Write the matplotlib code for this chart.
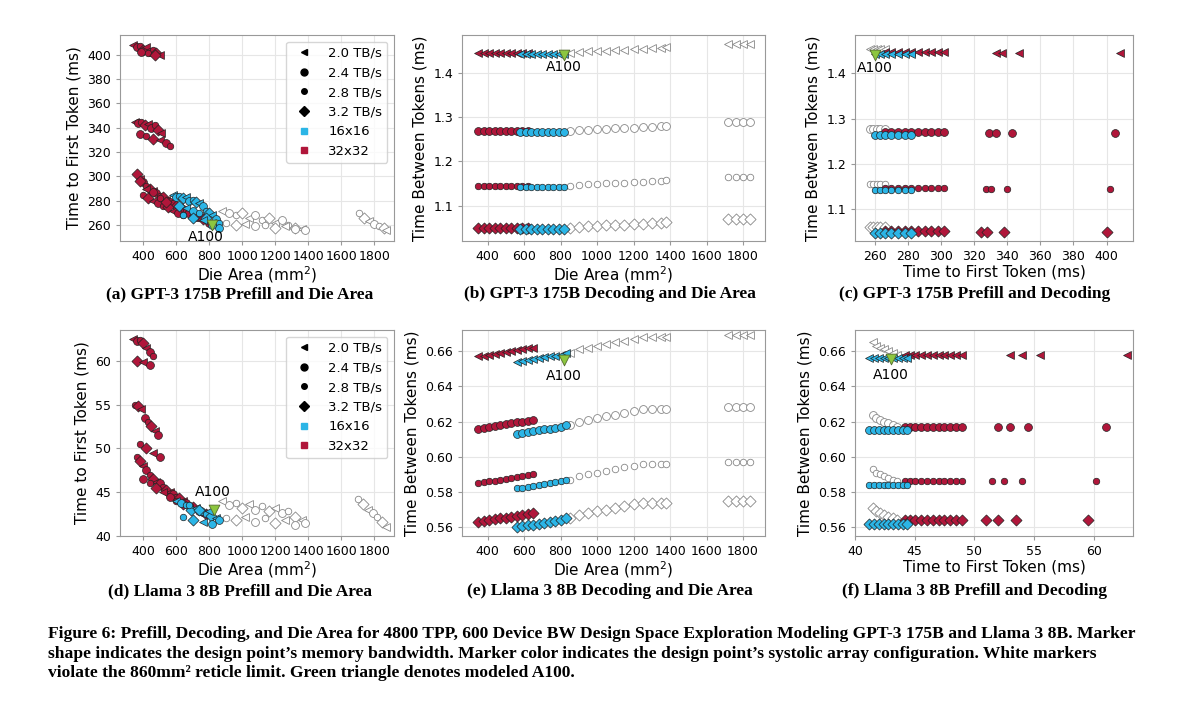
import matplotlib
matplotlib.use('Agg')
import matplotlib.pyplot as plt
from matplotlib.lines import Line2D

RED = '#b0163a'
BLUE = '#2bb5e6'
MK = ['<', 'o', '.', 'D']   # 2.0, 2.4, 2.8, 3.2 TB/s
BW_LABELS = ['2.0 TB/s', '2.4 TB/s', '2.8 TB/s', '3.2 TB/s']

# ---- (a) GPT-3 prefill vs die area
A_RED_X = [340, 360, 380, 400, 420, 440, 460, 480, 500, 390, 430, 470,
           350, 370, 390, 410, 430, 450, 470, 490, 510, 380, 420, 460, 500, 540, 560,
           360, 380, 400, 420, 440, 460, 480, 500, 520, 540, 560, 580, 600, 620, 640, 660,
           680, 700, 720, 740, 760, 780, 800, 400, 430, 460, 490, 520, 550, 580, 610, 640,
           380, 420, 460, 500, 540]
A_RED_Y = [408, 406, 407, 404, 406, 402, 404, 401, 400, 402, 401, 400,
           345, 344, 345, 342, 343, 340, 342, 338, 336, 335, 333, 331, 330, 327, 325,
           302, 298, 295, 292, 290, 288, 286, 284, 283, 281, 279, 278, 276, 275, 273, 272,
           270, 268, 267, 266, 265, 263, 262, 285, 282, 280, 278, 276, 275, 272, 270, 268,
           296, 290, 287, 282, 279]
A_BLUE_X = [580, 600, 620, 640, 660, 680, 700, 720, 740, 760, 780, 800, 820, 840, 860,
            620, 660, 700, 740, 780, 820, 860, 640, 700, 760, 820]
A_BLUE_Y = [285, 283, 284, 282, 283, 280, 281, 279, 278, 276, 272, 270, 268, 265, 262,
            276, 274, 272, 270, 266, 262, 258, 268, 266, 264, 260]
A_WHITE_X = [880, 920, 960, 1000, 1040, 1080, 1120, 1160, 1200, 1240, 1280, 1320, 1360, 1380,
             900, 960, 1020, 1080, 1140, 1200, 1260, 1320,
             1710, 1740, 1770, 1800, 1830, 1860, 1870]
A_WHITE_Y = [272, 270, 268, 270, 266, 268, 264, 266, 262, 264, 260, 258, 257, 256,
             262, 260, 261, 259, 260, 258, 259, 257,
             270, 266, 263, 261, 259, 258, 256]
A_A100 = (820, 260)

# ---- (b) GPT-3 decoding vs die area
B_LEVELS = [1.445, 1.268, 1.145, 1.05]
B_RED_X = [350, 380, 410, 440, 470, 500, 530, 560, 590, 620]
B_BLUE_X = [580, 610, 640, 670, 700, 730, 760, 790, 820]
B_WHITE_X = [850, 900, 950, 1000, 1050, 1100, 1150, 1200, 1250, 1300, 1350, 1380, 1720, 1760, 1800, 1840]
B_WHITE_DY = [0.0, 0.002, 0.003, 0.004, 0.005, 0.006, 0.007, 0.008, 0.009, 0.01, 0.011, 0.012,
              0.02, 0.02, 0.02, 0.02]
B_A100 = (820, 1.44)

# ---- (c) GPT-3 prefill vs decoding
C_RED_X = [266, 270, 274, 278, 282, 286, 290, 294, 298, 302]
C_OUT_X = [[333, 337, 347, 408], [329, 333, 343, 405], [327, 330, 340, 402], [324, 328, 338, 400]]
C_BLUE_X = [260, 263, 266, 270, 274, 278, 282]
C_WHITE_X = [257, 259, 261, 263, 266]
C_A100 = (260, 1.44)

# ---- (d) Llama 3 8B prefill vs die area
D_RED_X = [340, 360, 380, 400, 420, 440, 460, 360, 400, 440,
           350, 370, 390, 410, 430, 450, 470, 490, 380, 420, 460, 500,
           360, 380, 400, 420, 440, 460, 480, 500, 520, 540, 560, 580, 600, 620, 640, 660,
           680, 700, 720, 740, 760, 780, 800, 400, 440, 480, 520, 560, 600, 640, 680]
D_RED_Y = [62.5, 62.3, 62.4, 62.0, 61.5, 61.0, 60.5, 60.0, 59.8, 59.5,
           55.0, 54.8, 54.5, 53.5, 53.0, 52.5, 52.0, 51.5, 50.5, 50.0, 49.5, 49.0,
           49.0, 48.5, 48.0, 47.5, 47.0, 46.5, 46.2, 46.0, 45.6, 45.3, 45.0, 44.8, 44.5, 44.3,
           44.0, 43.8, 43.5, 43.3, 43.0, 42.8, 42.6, 42.5, 42.3, 46.5, 46.0, 45.5, 45.0,
           44.5, 44.0, 43.6, 43.2]
D_BLUE_X = [600, 630, 660, 690, 720, 750, 780, 810, 840, 860, 640, 700, 760, 820, 680, 740, 800]
D_BLUE_Y = [44.0, 43.8, 43.5, 43.0, 43.2, 42.8, 42.5, 42.3, 42.0, 41.8,
            42.2, 41.8, 41.6, 41.4, 43.5, 43.0, 42.8]
D_WHITE_X = [880, 920, 960, 1000, 1040, 1080, 1120, 1160, 1200, 1240, 1280, 1320, 1360, 1380,
             900, 960, 1020, 1080, 1140, 1200, 1260, 1320,
             1700, 1730, 1760, 1790, 1820, 1850, 1870]
D_WHITE_Y = [44.0, 43.5, 43.8, 43.2, 43.6, 43.0, 43.4, 42.8, 43.2, 42.6, 42.8, 42.2, 41.8, 41.5,
             42.0, 41.8, 42.2, 41.6, 42.0, 41.5, 41.8, 41.3,
             44.2, 43.6, 43.0, 42.6, 42.2, 41.6, 41.0]
D_A100 = (830, 43.0)

# ---- (e) Llama 3 8B decoding vs die area
E_LEVELS = [0.657, 0.616, 0.585, 0.563]
E_RED_X = [350, 380, 410, 440, 470, 500, 530, 560, 590, 620, 650]
E_RED_DY = [0.0, 0.0005, 0.001, 0.0015, 0.002, 0.0025, 0.003, 0.0035, 0.004, 0.0045, 0.005]
E_BLUE_X = [560, 590, 620, 650, 680, 710, 740, 770, 800, 830]
E_BLUE_DY = [-0.003, -0.0025, -0.002, -0.0015, -0.001, -0.0005, 0.0, 0.0005, 0.001, 0.002]
E_WHITE_X = [850, 900, 950, 1000, 1050, 1100, 1150, 1200, 1250, 1300, 1350, 1380, 1720, 1760, 1800, 1840]
E_WHITE_DY = [0.002, 0.004, 0.005, 0.006, 0.007, 0.008, 0.009, 0.01, 0.011, 0.011, 0.011, 0.011,
              0.012, 0.012, 0.012, 0.012]
E_A100 = (820, 0.655)

# ---- (f) Llama 3 8B prefill vs decoding
F_RED_X = [44.2, 44.6, 45.0, 45.5, 46.0, 46.5, 47.0, 47.5, 48.0, 48.5, 49.0]
F_OUT_X = [[53.0, 54.0, 55.5, 62.8], [52.0, 53.0, 54.5, 61.0], [51.5, 52.5, 54.0, 60.2],
           [51.0, 52.0, 53.5, 59.5]]
F_BLUE_X = [41.2, 41.6, 42.0, 42.4, 42.8, 43.2, 43.6, 44.0, 44.4]
F_WHITE_X = [41.5, 41.8, 42.1, 42.4, 42.8, 43.2, 43.5]
F_WHITE_DY = [0.008, 0.006, 0.005, 0.004, 0.003, 0.002, 0.001]
F_A100 = (43.0, 0.6555)


def pts(ax, xs, ys, kind, bw=None):
    for i, (x, y) in enumerate(zip(xs, ys)):
        m = MK[bw] if bw is not None else MK[i % 4]
        s = 22 if m == '.' else 32
        if m == '.':
            m = 'o'
        if kind == 'white':
            ax.scatter(x, y, marker=m, s=s, facecolor='white', edgecolor='#888888', linewidth=0.6, zorder=2)
        else:
            ax.scatter(x, y, marker=m, s=s, facecolor=RED if kind == 'red' else BLUE,
                       edgecolor='#222222', linewidth=0.5, zorder=3)


def a100(ax, p, dx, dy):
    ax.scatter(*p, marker='v', s=60, color='#8cc63f', edgecolor='#556b2f', linewidth=0.6, zorder=5)
    ax.text(p[0] + dx, p[1] + dy, 'A100', fontsize=10, ha='center', va='top', zorder=6)


def style(ax, xl, yl):
    ax.grid(True, color='#e6e6e6', linewidth=0.8)
    ax.set_axisbelow(True)
    for s in ax.spines.values():
        s.set_color('#999999')
    ax.tick_params(labelsize=9, length=3, color='#999999')
    ax.set_xlabel(xl, fontsize=11, labelpad=1)
    ax.set_ylabel(yl, fontsize=11)


fig = plt.figure(figsize=(12, 7.08), dpi=100)
W, H = 1200, 708


def mkax(l, r, t, b):
    return fig.add_axes([l / W, 1 - b / H, (r - l) / W, (b - t) / H])


DIE = 'Die Area (mm$^2$)'

# (a)
ax = mkax(120, 394, 35, 241)
pts(ax, A_RED_X, A_RED_Y, 'red')
pts(ax, A_BLUE_X, A_BLUE_Y, 'blue')
pts(ax, A_WHITE_X, A_WHITE_Y, 'white')
a100(ax, A_A100, -40, -4)
ax.set_xlim(260, 1920); ax.set_ylim(247, 416)
ax.set_xticks(range(400, 1801, 200)); ax.set_yticks(range(260, 401, 20))
style(ax, DIE, 'Time to First Token (ms)')
handles = [Line2D([], [], marker=MK[i] if MK[i] != '.' else 'o', ls='', color='k',
                  markersize=5 if MK[i] != '.' else 4) for i in range(4)]
handles += [Line2D([], [], marker='s', ls='', color=BLUE, markersize=5),
            Line2D([], [], marker='s', ls='', color=RED, markersize=5)]
leg_labels = BW_LABELS + ['16x16', '32x32']
ax.legend(handles, leg_labels, fontsize=9.5, loc='upper right', frameon=True, edgecolor='#cccccc')

# (b)
ax = mkax(462, 765, 35, 241)
for k, lv in enumerate(B_LEVELS):
    pts(ax, B_RED_X, [lv] * len(B_RED_X), 'red', k)
    pts(ax, B_BLUE_X, [lv - 0.003] * len(B_BLUE_X), 'blue', k)
    pts(ax, B_WHITE_X, [lv + d for d in B_WHITE_DY], 'white', k)
a100(ax, B_A100, 0, -0.012)
ax.set_xlim(260, 1920); ax.set_ylim(1.02, 1.485)
ax.set_xticks(range(400, 1801, 200)); ax.set_yticks([1.1, 1.2, 1.3, 1.4])
style(ax, DIE, 'Time Between Tokens (ms)')

# (c)
ax = mkax(855, 1133, 35, 241)
for k, lv in enumerate(B_LEVELS):
    pts(ax, C_WHITE_X, [lv + 0.01] * len(C_WHITE_X), 'white', k)
    pts(ax, C_RED_X, [lv + 0.002] * len(C_RED_X), 'red', k)
    pts(ax, C_OUT_X[k], [lv] * 4, 'red', k)
    pts(ax, C_BLUE_X, [lv - 0.003] * len(C_BLUE_X), 'blue', k)
a100(ax, C_A100, 0, -0.012)
ax.set_xlim(248, 416); ax.set_ylim(1.03, 1.485)
ax.set_xticks(range(260, 401, 20)); ax.set_yticks([1.1, 1.2, 1.3, 1.4])
style(ax, 'Time to First Token (ms)', 'Time Between Tokens (ms)')

# (d)
ax = mkax(120, 394, 330, 536)
pts(ax, D_RED_X, D_RED_Y, 'red')
pts(ax, D_BLUE_X, D_BLUE_Y, 'blue')
pts(ax, D_WHITE_X, D_WHITE_Y, 'white')
a100(ax, D_A100, -10, 2.8)
ax.set_xlim(260, 1920); ax.set_ylim(40, 63.5)
ax.set_xticks(range(400, 1801, 200)); ax.set_yticks([40, 45, 50, 55, 60])
style(ax, DIE, 'Time to First Token (ms)')
ax.legend(handles, leg_labels, fontsize=9.5, loc='upper right', frameon=True, edgecolor='#cccccc')

# (e)
ax = mkax(462, 765, 330, 536)
for k, lv in enumerate(E_LEVELS):
    pts(ax, E_RED_X, [lv + d for d in E_RED_DY], 'red', k)
    pts(ax, E_BLUE_X, [lv + d for d in E_BLUE_DY], 'blue', k)
    pts(ax, E_WHITE_X, [lv + d for d in E_WHITE_DY], 'white', k)
a100(ax, E_A100, 0, -0.005)
ax.set_xlim(260, 1920); ax.set_ylim(0.555, 0.672)
ax.set_xticks(range(400, 1801, 200)); ax.set_yticks([0.56, 0.58, 0.60, 0.62, 0.64, 0.66])
style(ax, DIE, 'Time Between Tokens (ms)')

# (f)
ax = mkax(855, 1133, 330, 536)
for k, lv in enumerate(E_LEVELS):
    pts(ax, F_WHITE_X, [lv + d for d in F_WHITE_DY], 'white', k)
    pts(ax, F_RED_X, [lv + 0.001] * len(F_RED_X), 'red', k)
    pts(ax, F_OUT_X[k], [lv + 0.001] * 4, 'red', k)
    pts(ax, F_BLUE_X, [lv - 0.001] * len(F_BLUE_X), 'blue', k)
a100(ax, F_A100, 0, -0.005)
ax.set_xlim(40, 63.3); ax.set_ylim(0.555, 0.672)
ax.set_xticks([40, 45, 50, 55, 60]); ax.set_yticks([0.56, 0.58, 0.60, 0.62, 0.64, 0.66])
style(ax, 'Time to First Token (ms)', 'Time Between Tokens (ms)')

SERIF = ['Liberation Serif', 'DejaVu Serif']
subs = [('(a) GPT-3 175B Prefill and Die Area', 240, 294),
        ('(b) GPT-3 175B Decoding and Die Area', 610, 294),
        ('(c) GPT-3 175B Prefill and Decoding', 975, 294),
        ('(d) Llama 3 8B Prefill and Die Area', 240, 591),
        ('(e) Llama 3 8B Decoding and Die Area', 610, 591),
        ('(f) Llama 3 8B Prefill and Decoding', 975, 591)]
for t, x, y in subs:
    fig.text(x / W, 1 - y / H, t, ha='center', va='center', fontsize=12.5, fontweight='bold', family=SERIF)

cap = ("Figure 6: Prefill, Decoding, and Die Area for 4800 TPP, 600 Device BW Design Space Exploration Modeling GPT-3 175B and Llama 3 8B. Marker\n"
       "shape indicates the design point\u2019s memory bandwidth. Marker color indicates the design point\u2019s systolic array configuration. White markers\n"
       "violate the 860mm\u00b2 reticle limit. Green triangle denotes modeled A100.")
fig.text(48 / W, 1 - 626 / H, cap, ha='left', va='top', fontsize=12.6, fontweight='bold',
         family=SERIF, linespacing=1.3)

plt.savefig('out.png', dpi=100)
